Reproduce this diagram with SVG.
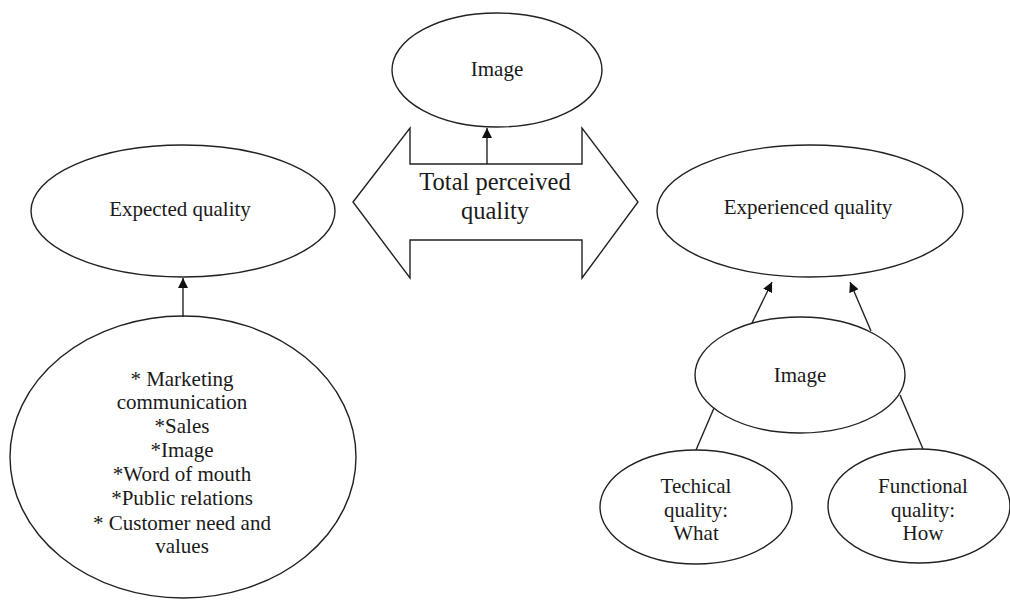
<svg xmlns="http://www.w3.org/2000/svg" width="1010" height="601" viewBox="0 0 1010 601">
<style>
.n{fill:#fff;stroke:#222;stroke-width:1.4}
.t{font-size:21px;fill:#1a1a1a;text-anchor:middle}
.big{font-size:24.5px}
.c{stroke:#222;stroke-width:1.4;fill:none}
</style>
<defs>
<marker id="ah" viewBox="0 0 10 10" refX="10" refY="5" markerWidth="10" markerHeight="10" markerUnits="userSpaceOnUse" orient="auto">
<path d="M0,0 L10,5 L0,10 z" fill="#111"/>
</marker>
</defs>
<rect width="1010" height="601" fill="#fff"/>
<g font-family="'Liberation Serif', 'Times New Roman', 'DejaVu Serif', serif">
<g id="tpq">
<path class="n" d="M353,202 L410,128 L410,164 L582,164 L582,128 L638,202 L582,278 L582,240 L410,240 L410,278 Z"/>
<text class="t big" x="495" y="190">Total perceived</text>
<text class="t big" x="495" y="219">quality</text>
</g>
<g id="image-top">
<ellipse class="n" cx="497" cy="70" rx="105" ry="57"/>
<text class="t" x="497" y="76">Image</text>
</g>
<g id="expected">
<ellipse class="n" cx="183" cy="211" rx="152" ry="66"/>
<text class="t" x="180" y="216">Expected quality</text>
</g>
<g id="sources">
<ellipse class="n" cx="183" cy="457" rx="173" ry="141"/>
<text class="t" x="182" y="386">* Marketing</text>
<text class="t" x="182" y="409">communication</text>
<text class="t" x="182" y="433">*Sales</text>
<text class="t" x="182" y="457">*Image</text>
<text class="t" x="182" y="481">*Word of mouth</text>
<text class="t" x="182" y="505">*Public relations</text>
<text class="t" x="182" y="530">* Customer need and</text>
<text class="t" x="182" y="553">values</text>
</g>
<g id="experienced">
<ellipse class="n" cx="810" cy="211" rx="153" ry="66"/>
<text class="t" x="808" y="214">Experienced quality</text>
</g>
<g id="image-right">
<ellipse class="n" cx="800" cy="375" rx="105" ry="58"/>
<text class="t" x="800" y="382">Image</text>
</g>
<g id="technical">
<ellipse class="n" cx="696" cy="507" rx="96" ry="57"/>
<text class="t" x="696" y="493">Techical</text>
<text class="t" x="696" y="517">quality:</text>
<text class="t" x="696" y="540">What</text>
</g>
<g id="functional">
<ellipse class="n" cx="919" cy="506" rx="91" ry="57"/>
<text class="t" x="923" y="493">Functional</text>
<text class="t" x="923" y="517">quality:</text>
<text class="t" x="923" y="540">How</text>
</g>
</g>
<g id="connectors">
<line class="c" x1="487" y1="164" x2="487" y2="128" marker-end="url(#ah)"/>
<line class="c" x1="183" y1="317" x2="183" y2="278" marker-end="url(#ah)"/>
<line class="c" x1="752" y1="323" x2="772" y2="282" marker-end="url(#ah)"/>
<line class="c" x1="871" y1="331" x2="850" y2="282" marker-end="url(#ah)"/>
<line class="c" x1="714" y1="408" x2="696" y2="450"/>
<line class="c" x1="900" y1="395" x2="923" y2="449"/>
</g>
</svg>
